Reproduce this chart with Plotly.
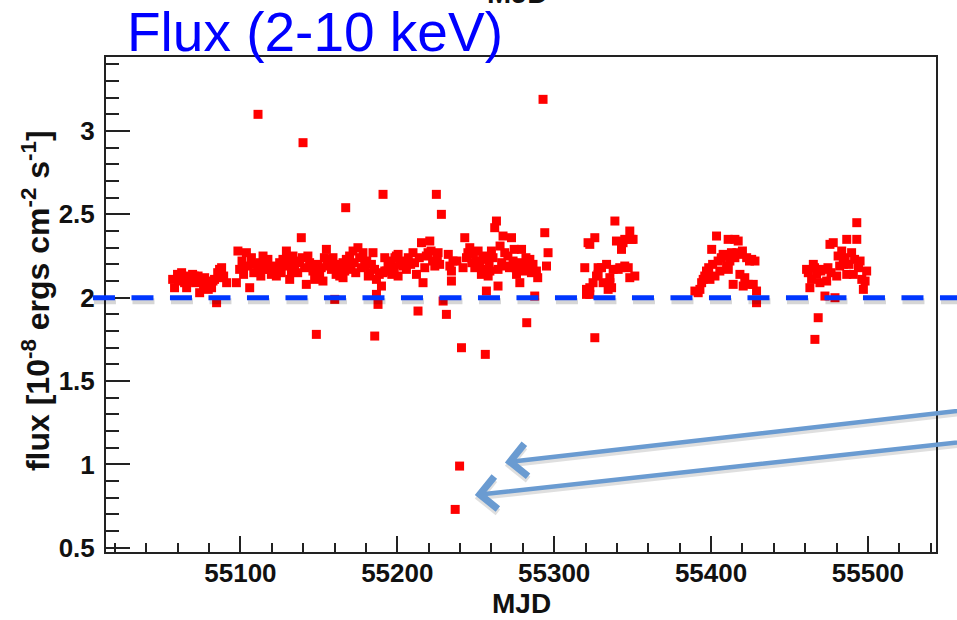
import plotly.graph_objects as go

# ---------------- data ----------------
mjd_a = [55056.8, 55058.0, 55059.9, 55060.5, 55062.5, 55063.0, 55064.4, 55065.7, 55066.5, 55067.6,
         55068.5, 55069.5, 55070.5, 55071.4, 55072.5, 55073.0, 55074.0, 55075.9, 55076.5, 55077.2,
         55078.4, 55079.5, 55080.4, 55081.6, 55082.5, 55083.5, 55084.8, 55085.5, 55086.7, 55087.5,
         55088.0, 55089.3, 55091.2]
flux_a = [2.11, 2.06, 2.14, 2.10, 2.15, 2.12, 2.09, 2.06, 2.13, 2.12,
          2.10, 2.14, 2.13, 2.09, 2.11, 2.13, 2.03, 2.11, 2.07, 2.12,
          2.08, 2.05, 2.09, 2.06, 2.10, 2.11, 1.97, 2.15, 2.17, 2.12,
          2.18, 2.13, 2.09]

mjd_b = [55097.4, 55098.4, 55099.5, 55101.0, 55102.0, 55103.8, 55104.5, 55105.9, 55107.0, 55108.5,
         55110.1, 55111.2, 55111.2, 55112.5, 55113.0, 55114.4, 55115.5, 55116.5, 55117.5, 55118.6,
         55119.7, 55120.5, 55121.5, 55122.9, 55124.0, 55125.0, 55126.0, 55127.1, 55128.0, 55129.3,
         55130.0, 55131.4, 55131.4, 55132.5, 55133.5, 55134.5, 55135.7, 55136.5, 55137.8, 55138.8,
         55139.5, 55139.9, 55140.9, 55142.0, 55143.0, 55144.1, 55145.0, 55146.2, 55147.3, 55148.4,
         55148.4, 55149.5, 55150.5, 55151.5, 55152.6, 55153.5, 55154.8, 55155.5, 55156.9, 55158.0,
         55159.0, 55160.1, 55160.1, 55161.0, 55162.2, 55163.3, 55164.5, 55165.4, 55165.4, 55166.5,
         55167.1, 55167.5, 55168.6, 55169.6, 55170.5, 55171.8, 55172.5, 55173.5, 55174.9, 55176.0,
         55177.0, 55178.1, 55179.2, 55180.5, 55181.5, 55182.4, 55183.5, 55184.5, 55185.5, 55185.6,
         55186.7, 55186.7, 55187.7, 55188.5, 55189.9, 55190.9, 55190.9, 55192.0, 55192.0, 55193.0,
         55194.1, 55195.5, 55196.2, 55196.5, 55198.0, 55198.5, 55199.4, 55200.5, 55200.5, 55201.5]
flux_b = [2.09, 2.28, 2.17, 2.22, 2.14, 2.27, 2.19, 2.06, 2.24, 2.15,
          2.20, 2.17, 3.10, 2.21, 2.13, 2.25, 2.20, 2.17, 2.23, 2.17,
          2.14, 2.19, 2.16, 2.13, 2.18, 2.21, 2.15, 2.23, 2.19, 2.28,
          2.24, 2.11, 2.21, 2.16, 2.25, 2.18, 2.22, 2.15, 2.21, 2.36,
          2.24, 2.93, 2.18, 2.08, 2.25, 2.21, 2.19, 2.16, 2.11, 2.15,
          1.78, 2.20, 2.13, 2.18, 2.10, 2.24, 2.29, 2.19, 2.23, 2.17,
          2.24, 2.20, 1.99, 2.14, 2.16, 2.13, 2.19, 2.21, 2.12, 2.16,
          2.54, 2.23, 2.17, 2.25, 2.19, 2.28, 2.21, 2.15, 2.30, 2.24,
          2.18, 2.27, 2.19, 2.22, 2.13, 2.15, 2.20, 2.27, 2.17, 1.77,
          2.11, 2.02, 1.96, 2.14, 2.07, 2.15, 2.62, 2.24, 2.16, 2.16,
          2.19, 2.22, 2.21, 2.14, 2.18, 2.24, 2.25, 2.26, 2.13, 2.20]

mjd_c = [55202.0, 55203.6, 55205.8, 55207.0, 55208.5, 55210.0, 55211.0, 55212.2, 55213.2, 55214.0,
         55215.4, 55216.4, 55217.5, 55218.5, 55219.6, 55220.7, 55221.5, 55222.5, 55223.9, 55224.9,
         55225.5, 55226.0, 55227.0, 55228.1, 55229.2, 55231.3, 55232.5, 55233.5, 55234.5, 55234.5,
         55235.5, 55236.9, 55238.0, 55239.7, 55240.9, 55241.9, 55243.0, 55244.1, 55245.0, 55246.2,
         55247.5, 55248.5, 55249.4, 55250.5, 55251.5, 55252.5, 55253.6, 55254.5, 55255.8, 55256.1,
         55256.8, 55256.8, 55257.9, 55258.5, 55259.0, 55260.0, 55261.0, 55262.1, 55263.2, 55264.2,
         55264.2, 55265.5, 55266.5, 55267.4, 55268.5, 55269.6, 55270.5, 55271.5, 55272.8, 55273.8,
         55274.5, 55275.5, 55276.0, 55277.0, 55278.1, 55279.2, 55280.0, 55281.3, 55282.0, 55282.5,
         55283.5, 55284.5, 55285.5, 55286.5, 55287.6, 55288.7, 55289.5, 55292.9, 55294.0, 55295.1,
         55296.1]
flux_c = [2.22, 2.19, 2.17, 2.24, 2.20, 2.27, 2.21, 2.14, 1.92, 2.24,
          2.33, 2.09, 2.18, 2.25, 2.27, 2.34, 2.28, 2.22, 2.19, 2.62,
          2.24, 2.27, 2.20, 2.50, 1.98, 1.90, 2.26, 2.19, 2.16, 2.10,
          2.22, 0.73, 2.22, 0.99, 1.70, 2.18, 2.36, 2.24, 2.27, 2.30,
          2.21, 2.26, 2.18, 2.22, 2.28, 2.19, 2.14, 2.25, 2.23, 1.66,
          2.04, 2.17, 2.13, 2.21, 2.16, 2.28, 2.24, 2.42, 2.46, 2.17,
          2.07, 2.31, 2.21, 2.37, 2.27, 2.19, 2.25, 2.18, 2.36, 2.22,
          2.29, 2.18, 2.14, 2.21, 2.09, 2.29, 2.16, 2.19, 2.24, 1.85,
          2.17, 2.23, 2.15, 2.20, 2.01, 2.16, 2.12, 3.19, 2.39, 2.19,
          2.27]

mjd_d = [55319.5, 55320.6, 55320.6, 55321.6, 55322.7, 55322.7, 55322.7, 55324.8, 55325.9, 55325.9,
         55327.0, 55328.0, 55328.0, 55330.2, 55331.2, 55333.4, 55334.4, 55335.5, 55335.5, 55336.6,
         55337.6, 55338.7, 55339.7, 55340.8, 55341.8, 55342.9, 55343.9, 55345.0, 55345.0, 55347.2,
         55348.2, 55348.2, 55349.3, 55350.3, 55351.4]
flux_d = [2.18, 2.05, 2.02, 2.33, 2.32, 2.06, 2.02, 2.09, 2.36, 1.76,
          2.13, 2.18, 2.14, 2.18, 2.09, 2.20, 2.05, 2.12, 2.09, 2.06,
          2.17, 2.46, 2.34, 2.17, 2.18, 2.29, 2.33, 2.19, 2.35, 2.18,
          2.40, 2.12, 2.35, 2.35, 2.13]

mjd_e = [55389.7, 55391.8, 55392.9, 55394.0, 55395.0, 55396.0, 55397.1, 55398.5, 55399.3, 55400.4,
         55401.0, 55402.5, 55403.5, 55404.5, 55405.6, 55406.5, 55407.7, 55409.0, 55409.9, 55410.9,
         55411.0, 55412.0, 55413.0, 55414.1, 55415.2, 55415.2, 55416.5, 55417.3, 55418.4, 55419.5,
         55420.0, 55420.5, 55421.5, 55422.7, 55423.7, 55424.5, 55425.9, 55426.9, 55428.0, 55429.0,
         55429.0]
flux_e = [2.04, 2.03, 2.05, 2.09, 2.11, 2.13, 2.16, 2.18, 2.11, 2.29,
          2.20, 2.13, 2.37, 2.22, 2.16, 2.24, 2.26, 2.25, 2.19, 2.35,
          2.17, 2.22, 2.27, 2.08, 2.24, 2.35, 2.27, 2.34, 2.14, 2.26,
          2.28, 2.07, 2.12, 2.24, 2.08, 2.22, 2.23, 2.08, 2.22, 2.04,
          1.97]

mjd_f = [55460.9, 55462.0, 55463.0, 55464.1, 55465.2, 55466.0, 55466.2, 55467.3, 55468.3, 55469.4,
         55470.0, 55471.5, 55472.6, 55473.7, 55474.5, 55475.8, 55476.5, 55477.9, 55479.0, 55480.1,
         55481.0, 55482.0, 55483.3, 55484.3, 55485.5, 55486.5, 55486.5, 55488.0, 55489.6, 55490.7,
         55491.5, 55492.9, 55492.9, 55494.0, 55495.0, 55496.1, 55497.1, 55498.2, 55499.2]
flux_f = [2.17, 2.15, 2.06, 2.11, 2.20, 2.18, 1.75, 2.14, 1.88, 2.09,
          2.16, 2.17, 2.01, 2.10, 2.18, 2.32, 2.15, 2.33, 2.00, 2.13,
          2.25, 2.19, 2.28, 2.20, 2.24, 2.35, 2.14, 2.20, 2.27, 2.14,
          2.23, 2.35, 2.45, 2.18, 2.22, 2.11, 2.05, 2.10, 2.16]

x_ticks = [55100, 55200, 55300, 55400, 55500]
x_labels = ["55100", "55200", "55300", "55400", "55500"]
y_ticks = [0.5, 1.0, 1.5, 2.0, 2.5, 3.0]
y_labels = ["0.5", "1", "1.5", "2", "2.5", "3"]
threshold = 2.0

# arrows: (tip MJD, tip flux, tail MJD, tail flux)
arrow_tips = [(55268.6, 1.012, 55590.0, 1.356), (55249.4, 0.816, 55590.0, 1.166)]

mjd = mjd_a + mjd_b + mjd_c + mjd_d + mjd_e + mjd_f
flux = flux_a + flux_b + flux_c + flux_d + flux_e + flux_f

# ---------------- figure ----------------
fig = go.Figure(go.Scatter(
    x=mjd, y=flux, mode="markers",
    marker=dict(symbol="square", size=9, color="#ff0000", line=dict(width=0)),
    hoverinfo="skip", showlegend=False))

FRAME = "#222222"
tickfont = dict(family="Liberation Sans", size=26, color="#111111", weight="bold")

fig.update_xaxes(
    range=[55014.3, 55543.4], showline=True, linecolor=FRAME, linewidth=2, mirror=True,
    showgrid=False, zeroline=False, tickmode="array", tickvals=x_ticks, ticktext=x_labels,
    ticks="inside", ticklen=16, tickwidth=2, tickcolor=FRAME, tickfont=tickfont,
    ticklabelstandoff=-3,
    minor=dict(dtick=20, tick0=55000, ticks="inside", ticklen=9, tickwidth=2,
               tickcolor=FRAME, showgrid=False))
fig.update_yaxes(
    range=[0.4745, 3.444], showline=True, linecolor=FRAME, linewidth=2, mirror=True,
    showgrid=False, zeroline=False, tickmode="array", tickvals=y_ticks, ticktext=y_labels,
    ticks="inside", ticklen=24, tickwidth=2, tickcolor=FRAME, tickfont=tickfont,
    ticklabelstandoff=4,
    minor=dict(dtick=0.1, tick0=0.5, ticks="inside", ticklen=13, tickwidth=2,
               tickcolor=FRAME, showgrid=False))

shapes = [
    # soft shadow under the dashed threshold line
    dict(type="line", xref="paper", yref="y", x0=-0.0145, x1=1.06, y0=threshold - 0.022,
         y1=threshold - 0.022, line=dict(color="rgba(0,0,0,0.16)", width=6, dash="22px,16.5px")),
    dict(type="line", xref="paper", yref="y", x0=-0.0157, x1=1.06, y0=threshold, y1=threshold,
         line=dict(color="#0037ff", width=5, dash="22px,16.5px")),
]

annotations = [
    dict(text="Flux (2-10 keV)", xref="paper", yref="paper", x=0.0229, y=1.0505,
         xanchor="left", yanchor="middle", showarrow=False,
         font=dict(family="Liberation Sans", size=55, color="#0000ff")),
    dict(text="MJD", xref="paper", yref="paper", x=0.496, y=1.0929,
         xanchor="center", yanchor="bottom", showarrow=False,
         font=dict(family="Liberation Sans", size=29, color="#111111", weight="bold")),
    dict(text="MJD", xref="paper", yref="paper", x=0.5, y=-0.104,
         xanchor="center", yanchor="middle", showarrow=False,
         font=dict(family="Liberation Sans", size=28, color="#111111", weight="bold")),
    dict(text="flux [10<sup>-8</sup> ergs cm<sup>-2</sup> s<sup>-1</sup>]",
         xref="paper", yref="paper", x=-0.0843, y=0.507, xanchor="center", yanchor="middle",
         textangle=-90, showarrow=False,
         font=dict(family="Liberation Sans", size=32, color="#111111", weight="bold")),
]
for (tx, ty, axv, ayv) in arrow_tips:
    annotations.append(dict(x=tx, y=ty - 0.02, xref="x", yref="y", ax=axv, ay=ayv - 0.02,
                            axref="x", ayref="y", text="", showarrow=True, arrowhead=4,
                            arrowsize=1.4, arrowwidth=4.5, arrowcolor="rgba(0,0,0,0.12)",
                            standoff=0))
    annotations.append(dict(x=tx, y=ty, xref="x", yref="y", ax=axv, ay=ayv,
                            axref="x", ayref="y", text="", showarrow=True, arrowhead=4,
                            arrowsize=1.4, arrowwidth=4.5, arrowcolor="#6a9bd1",
                            standoff=0))

fig.update_layout(
    width=957, height=620, margin=dict(l=106, r=21, t=57, b=68),
    paper_bgcolor="white", plot_bgcolor="white",
    shapes=shapes, annotations=annotations, showlegend=False)

fig.write_html("out.html")
